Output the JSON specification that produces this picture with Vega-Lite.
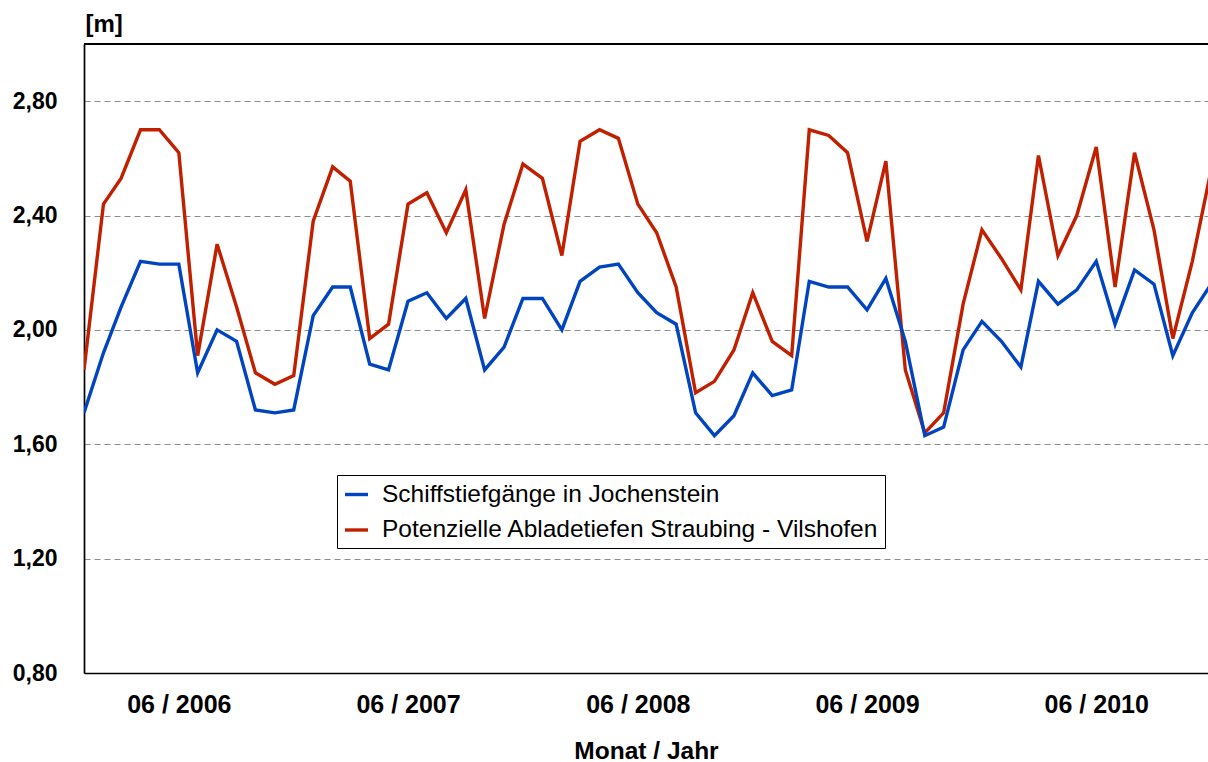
{
  "$schema": "https://vega.github.io/schema/vega-lite/v6.json",
  "autosize": "none",
  "width": 1124,
  "height": 629,
  "padding": {"left": 84, "top": 44, "right": 0, "bottom": 89},
  "background": "white",
  "view": {"stroke": null},
  "config": {
    "font": "Liberation Sans",
    "axis": {"labelColor": "black", "titleColor": "black"}
  },
  "data": {
    "values": [
      {"Monat": "2006-01", "Potenzielle Abladetiefen Straubing - Vilshofen": 1.86, "Schiffstiefgänge in Jochenstein": 1.71},
      {"Monat": "2006-02", "Potenzielle Abladetiefen Straubing - Vilshofen": 2.44, "Schiffstiefgänge in Jochenstein": 1.92},
      {"Monat": "2006-03", "Potenzielle Abladetiefen Straubing - Vilshofen": 2.53, "Schiffstiefgänge in Jochenstein": 2.08},
      {"Monat": "2006-04", "Potenzielle Abladetiefen Straubing - Vilshofen": 2.70, "Schiffstiefgänge in Jochenstein": 2.24},
      {"Monat": "2006-05", "Potenzielle Abladetiefen Straubing - Vilshofen": 2.70, "Schiffstiefgänge in Jochenstein": 2.23},
      {"Monat": "2006-06", "Potenzielle Abladetiefen Straubing - Vilshofen": 2.62, "Schiffstiefgänge in Jochenstein": 2.23},
      {"Monat": "2006-07", "Potenzielle Abladetiefen Straubing - Vilshofen": 1.91, "Schiffstiefgänge in Jochenstein": 1.85},
      {"Monat": "2006-08", "Potenzielle Abladetiefen Straubing - Vilshofen": 2.30, "Schiffstiefgänge in Jochenstein": 2.00},
      {"Monat": "2006-09", "Potenzielle Abladetiefen Straubing - Vilshofen": 2.08, "Schiffstiefgänge in Jochenstein": 1.96},
      {"Monat": "2006-10", "Potenzielle Abladetiefen Straubing - Vilshofen": 1.85, "Schiffstiefgänge in Jochenstein": 1.72},
      {"Monat": "2006-11", "Potenzielle Abladetiefen Straubing - Vilshofen": 1.81, "Schiffstiefgänge in Jochenstein": 1.71},
      {"Monat": "2006-12", "Potenzielle Abladetiefen Straubing - Vilshofen": 1.84, "Schiffstiefgänge in Jochenstein": 1.72},
      {"Monat": "2007-01", "Potenzielle Abladetiefen Straubing - Vilshofen": 2.38, "Schiffstiefgänge in Jochenstein": 2.05},
      {"Monat": "2007-02", "Potenzielle Abladetiefen Straubing - Vilshofen": 2.57, "Schiffstiefgänge in Jochenstein": 2.15},
      {"Monat": "2007-03", "Potenzielle Abladetiefen Straubing - Vilshofen": 2.52, "Schiffstiefgänge in Jochenstein": 2.15},
      {"Monat": "2007-04", "Potenzielle Abladetiefen Straubing - Vilshofen": 1.97, "Schiffstiefgänge in Jochenstein": 1.88},
      {"Monat": "2007-05", "Potenzielle Abladetiefen Straubing - Vilshofen": 2.02, "Schiffstiefgänge in Jochenstein": 1.86},
      {"Monat": "2007-06", "Potenzielle Abladetiefen Straubing - Vilshofen": 2.44, "Schiffstiefgänge in Jochenstein": 2.10},
      {"Monat": "2007-07", "Potenzielle Abladetiefen Straubing - Vilshofen": 2.48, "Schiffstiefgänge in Jochenstein": 2.13},
      {"Monat": "2007-08", "Potenzielle Abladetiefen Straubing - Vilshofen": 2.34, "Schiffstiefgänge in Jochenstein": 2.04},
      {"Monat": "2007-09", "Potenzielle Abladetiefen Straubing - Vilshofen": 2.49, "Schiffstiefgänge in Jochenstein": 2.11},
      {"Monat": "2007-10", "Potenzielle Abladetiefen Straubing - Vilshofen": 2.04, "Schiffstiefgänge in Jochenstein": 1.86},
      {"Monat": "2007-11", "Potenzielle Abladetiefen Straubing - Vilshofen": 2.37, "Schiffstiefgänge in Jochenstein": 1.94},
      {"Monat": "2007-12", "Potenzielle Abladetiefen Straubing - Vilshofen": 2.58, "Schiffstiefgänge in Jochenstein": 2.11},
      {"Monat": "2008-01", "Potenzielle Abladetiefen Straubing - Vilshofen": 2.53, "Schiffstiefgänge in Jochenstein": 2.11},
      {"Monat": "2008-02", "Potenzielle Abladetiefen Straubing - Vilshofen": 2.26, "Schiffstiefgänge in Jochenstein": 2.00},
      {"Monat": "2008-03", "Potenzielle Abladetiefen Straubing - Vilshofen": 2.66, "Schiffstiefgänge in Jochenstein": 2.17},
      {"Monat": "2008-04", "Potenzielle Abladetiefen Straubing - Vilshofen": 2.70, "Schiffstiefgänge in Jochenstein": 2.22},
      {"Monat": "2008-05", "Potenzielle Abladetiefen Straubing - Vilshofen": 2.67, "Schiffstiefgänge in Jochenstein": 2.23},
      {"Monat": "2008-06", "Potenzielle Abladetiefen Straubing - Vilshofen": 2.44, "Schiffstiefgänge in Jochenstein": 2.13},
      {"Monat": "2008-07", "Potenzielle Abladetiefen Straubing - Vilshofen": 2.34, "Schiffstiefgänge in Jochenstein": 2.06},
      {"Monat": "2008-08", "Potenzielle Abladetiefen Straubing - Vilshofen": 2.15, "Schiffstiefgänge in Jochenstein": 2.02},
      {"Monat": "2008-09", "Potenzielle Abladetiefen Straubing - Vilshofen": 1.78, "Schiffstiefgänge in Jochenstein": 1.71},
      {"Monat": "2008-10", "Potenzielle Abladetiefen Straubing - Vilshofen": 1.82, "Schiffstiefgänge in Jochenstein": 1.63},
      {"Monat": "2008-11", "Potenzielle Abladetiefen Straubing - Vilshofen": 1.93, "Schiffstiefgänge in Jochenstein": 1.70},
      {"Monat": "2008-12", "Potenzielle Abladetiefen Straubing - Vilshofen": 2.13, "Schiffstiefgänge in Jochenstein": 1.85},
      {"Monat": "2009-01", "Potenzielle Abladetiefen Straubing - Vilshofen": 1.96, "Schiffstiefgänge in Jochenstein": 1.77},
      {"Monat": "2009-02", "Potenzielle Abladetiefen Straubing - Vilshofen": 1.91, "Schiffstiefgänge in Jochenstein": 1.79},
      {"Monat": "2009-03", "Potenzielle Abladetiefen Straubing - Vilshofen": 2.70, "Schiffstiefgänge in Jochenstein": 2.17},
      {"Monat": "2009-04", "Potenzielle Abladetiefen Straubing - Vilshofen": 2.68, "Schiffstiefgänge in Jochenstein": 2.15},
      {"Monat": "2009-05", "Potenzielle Abladetiefen Straubing - Vilshofen": 2.62, "Schiffstiefgänge in Jochenstein": 2.15},
      {"Monat": "2009-06", "Potenzielle Abladetiefen Straubing - Vilshofen": 2.31, "Schiffstiefgänge in Jochenstein": 2.07},
      {"Monat": "2009-07", "Potenzielle Abladetiefen Straubing - Vilshofen": 2.59, "Schiffstiefgänge in Jochenstein": 2.18},
      {"Monat": "2009-08", "Potenzielle Abladetiefen Straubing - Vilshofen": 1.86, "Schiffstiefgänge in Jochenstein": 1.96},
      {"Monat": "2009-09", "Potenzielle Abladetiefen Straubing - Vilshofen": 1.64, "Schiffstiefgänge in Jochenstein": 1.63},
      {"Monat": "2009-10", "Potenzielle Abladetiefen Straubing - Vilshofen": 1.71, "Schiffstiefgänge in Jochenstein": 1.66},
      {"Monat": "2009-11", "Potenzielle Abladetiefen Straubing - Vilshofen": 2.09, "Schiffstiefgänge in Jochenstein": 1.93},
      {"Monat": "2009-12", "Potenzielle Abladetiefen Straubing - Vilshofen": 2.35, "Schiffstiefgänge in Jochenstein": 2.03},
      {"Monat": "2010-01", "Potenzielle Abladetiefen Straubing - Vilshofen": 2.25, "Schiffstiefgänge in Jochenstein": 1.96},
      {"Monat": "2010-02", "Potenzielle Abladetiefen Straubing - Vilshofen": 2.14, "Schiffstiefgänge in Jochenstein": 1.87},
      {"Monat": "2010-03", "Potenzielle Abladetiefen Straubing - Vilshofen": 2.61, "Schiffstiefgänge in Jochenstein": 2.17},
      {"Monat": "2010-04", "Potenzielle Abladetiefen Straubing - Vilshofen": 2.26, "Schiffstiefgänge in Jochenstein": 2.09},
      {"Monat": "2010-05", "Potenzielle Abladetiefen Straubing - Vilshofen": 2.40, "Schiffstiefgänge in Jochenstein": 2.14},
      {"Monat": "2010-06", "Potenzielle Abladetiefen Straubing - Vilshofen": 2.64, "Schiffstiefgänge in Jochenstein": 2.24},
      {"Monat": "2010-07", "Potenzielle Abladetiefen Straubing - Vilshofen": 2.15, "Schiffstiefgänge in Jochenstein": 2.02},
      {"Monat": "2010-08", "Potenzielle Abladetiefen Straubing - Vilshofen": 2.62, "Schiffstiefgänge in Jochenstein": 2.21},
      {"Monat": "2010-09", "Potenzielle Abladetiefen Straubing - Vilshofen": 2.35, "Schiffstiefgänge in Jochenstein": 2.16},
      {"Monat": "2010-10", "Potenzielle Abladetiefen Straubing - Vilshofen": 1.97, "Schiffstiefgänge in Jochenstein": 1.91},
      {"Monat": "2010-11", "Potenzielle Abladetiefen Straubing - Vilshofen": 2.24, "Schiffstiefgänge in Jochenstein": 2.06},
      {"Monat": "2010-12", "Potenzielle Abladetiefen Straubing - Vilshofen": 2.56, "Schiffstiefgänge in Jochenstein": 2.16}
    ]
  },
  "layer": [
    {
      "transform": [
        {"fold": ["Potenzielle Abladetiefen Straubing - Vilshofen", "Schiffstiefgänge in Jochenstein"], "as": ["Reihe", "Wert"]}
      ],
      "mark": {"type": "line", "clip": true, "strokeWidth": 3.4, "strokeJoin": "miter", "strokeCap": "butt"},
      "encoding": {
        "x": {
          "field": "Monat",
          "type": "temporal",
          "scale": {
            "type": "utc",
            "domain": [
              {"year": 2006, "month": 1, "date": 1, "utc": true},
              {"year": 2010, "month": 11, "date": 26, "utc": true}
            ],
            "nice": false
          },
          "axis": {
            "title": "Monat / Jahr",
            "values": [
              {"year": 2006, "month": 6, "date": 1, "utc": true},
              {"year": 2007, "month": 6, "date": 1, "utc": true},
              {"year": 2008, "month": 6, "date": 1, "utc": true},
              {"year": 2009, "month": 6, "date": 1, "utc": true},
              {"year": 2010, "month": 6, "date": 1, "utc": true}
            ],
            "labelExpr": "utcFormat(datum.value, '%m / %Y')",
            "labelFont": "Liberation Sans",
            "labelFontSize": 25,
            "labelFontWeight": "bold",
            "labelPadding": 19,
            "labelOverlap": false,
            "labelBound": false,
            "labelFlush": false,
            "ticks": false,
            "tickSize": 0,
            "grid": false,
            "domain": true,
            "domainColor": "black",
            "domainWidth": 1.7,
            "titleFont": "Liberation Sans",
            "titleFontSize": 24.5,
            "titleFontWeight": "bold",
            "titleBaseline": "alphabetic",
            "titleAnchor": "middle",
            "titleY": 85
          }
        },
        "y": {
          "field": "Wert",
          "type": "quantitative",
          "scale": {"domain": [0.8, 3.0], "nice": false, "zero": false},
          "axis": {
            "title": "[m]",
            "titleAngle": 0,
            "titleAlign": "left",
            "titleBaseline": "alphabetic",
            "titleX": 1,
            "titleY": -13,
            "titleFont": "Liberation Sans",
            "titleFontSize": 24,
            "titleFontWeight": "bold",
            "values": [0.8, 1.2, 1.6, 2.0, 2.4, 2.8],
            "labelExpr": "replace(format(datum.value, '.2f'), '.', ',')",
            "labelFont": "Liberation Sans",
            "labelFontSize": 23,
            "labelFontWeight": "bold",
            "labelPadding": 27,
            "ticks": false,
            "tickSize": 0,
            "domain": true,
            "domainColor": "black",
            "domainWidth": 1.7,
            "grid": true,
            "gridColor": "#8c8c8c",
            "gridWidth": 1,
            "gridDash": [6, 4]
          }
        },
        "color": {
          "field": "Reihe",
          "type": "nominal",
          "scale": {
            "domain": ["Schiffstiefgänge in Jochenstein", "Potenzielle Abladetiefen Straubing - Vilshofen"],
            "range": ["#0044BF", "#C02000"]
          },
          "legend": {
            "title": null,
            "orient": "none",
            "legendX": 253,
            "legendY": 431,
            "direction": "vertical",
            "fillColor": "white",
            "strokeColor": "black",
            "padding": 6,
            "symbolType": "stroke",
            "symbolSize": 529,
            "symbolStrokeWidth": 3.4,
            "labelFont": "Liberation Sans",
            "labelFontSize": 24.5,
            "labelColor": "black",
            "labelLimit": 700,
            "labelOffset": 12,
            "rowPadding": 10.5
          }
        }
      }
    },
    {
      "mark": {"type": "rule", "color": "black", "strokeWidth": 1.7},
      "encoding": {"y": {"datum": 3.0}}
    }
  ]
}
